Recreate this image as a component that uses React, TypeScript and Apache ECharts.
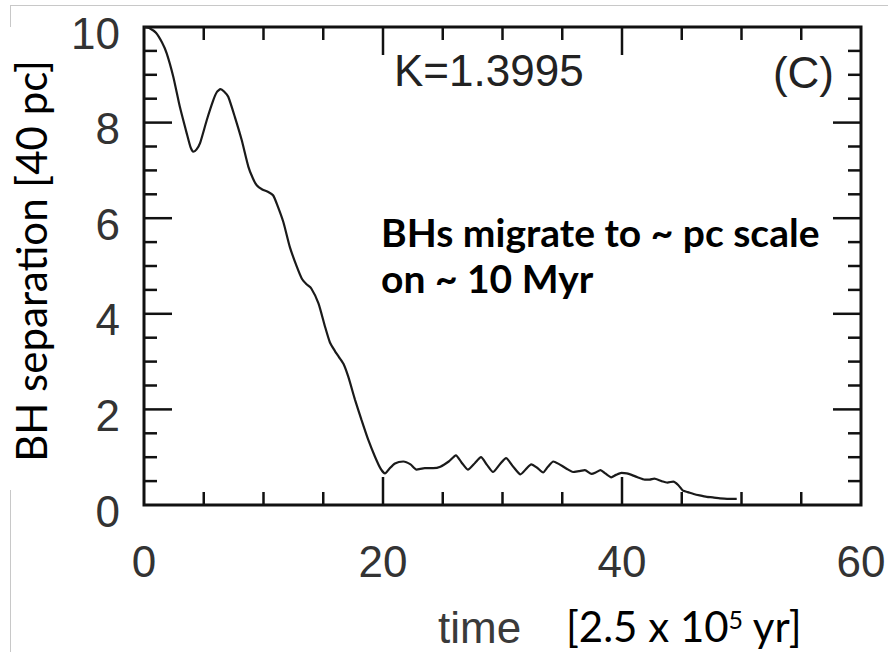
import { useEffect, useRef } from "react";
import * as echarts from "echarts";

// ---- data ----
const timeValues = [
  0, 0.5, 1.0, 1.5, 1.9, 2.45, 3.0, 3.57, 3.9, 4.13, 4.4, 4.69, 5.25, 5.8, 6.1, 6.4, 6.7, 7.05,
  7.6, 8.17, 8.73, 9.1, 9.43, 9.9, 10.4, 10.8, 11.1, 11.66, 12.2, 12.78, 13.2, 13.6, 14.0, 14.6,
  15.15, 15.56, 15.98, 16.3, 16.68, 17.1, 17.66, 18.2, 18.77, 19.33, 19.8, 20.17, 20.5, 21.0,
  21.7, 22.3, 22.8, 23.5, 24.2, 24.8, 25.5, 26.1, 26.6, 27.1, 27.7, 28.2, 28.7, 29.2, 29.8, 30.3,
  30.9, 31.5, 32.0, 32.4, 32.9, 33.4, 33.8, 34.25, 34.7, 35.1, 35.5, 35.9, 36.4, 36.9, 37.45,
  37.8, 38.2, 38.6, 39.1, 39.5, 39.96, 40.4, 40.8, 41.3, 41.9, 42.3, 42.7, 43.3, 43.8, 44.3, 44.7,
  45.1, 45.5, 46.0, 46.5, 47.1, 47.6, 48.2, 48.8, 49.6,
];
const separationValues = [
  10.0, 9.97, 9.88, 9.68, 9.45, 8.96, 8.33, 7.78, 7.48, 7.39, 7.44, 7.57, 8.05, 8.47, 8.64, 8.7,
  8.65, 8.54, 8.12, 7.64, 7.08, 6.84, 6.69, 6.6, 6.55, 6.48, 6.31, 5.92, 5.4, 4.99, 4.74, 4.62,
  4.53, 4.22, 3.73, 3.4, 3.22, 3.1, 2.96, 2.68, 2.2, 1.78, 1.36, 1.01, 0.76, 0.66, 0.75, 0.87,
  0.91, 0.85, 0.74, 0.77, 0.77, 0.8, 0.91, 1.04, 0.88, 0.74, 0.88, 1.0, 0.84, 0.69, 0.86, 0.98,
  0.8, 0.64, 0.76, 0.85, 0.78, 0.68, 0.8, 0.91, 0.86, 0.8, 0.74, 0.69, 0.71, 0.73, 0.65, 0.68,
  0.73, 0.66, 0.58, 0.63, 0.67, 0.66, 0.63, 0.58, 0.53, 0.53, 0.55, 0.5, 0.47, 0.49, 0.42, 0.3,
  0.27, 0.23, 0.2, 0.17, 0.16, 0.14, 0.13, 0.13,
];
const xRange = [0, 60];
const xLabelStep = 20;
const yRange = [0, 10];
const yLabelStep = 2;
const xMajorTicks = [20, 40];
const xMinorTicks = [5, 10, 15, 25, 30, 35, 45, 50, 55];
const yMajorTicks = [2, 4, 6, 8];
const yMinorTicks = [0.5, 1, 1.5, 2.5, 3, 3.5, 4.5, 5, 5.5, 6.5, 7, 7.5, 8.5, 9, 9.5];
const kLabel = "K=1.3995";
const panelLabel = "(C)";
const noteLines = ["BHs migrate to ~ pc scale", "on ~ 10 Myr"];
const yTitle = "BH separation [40 pc]";
const xTitleWord = "time";
const xUnitParts = ["[2.5 x 10", "5", " yr]"];

const INK = "#111";
const HELV = "'Liberation Sans', Arial, Helvetica, sans-serif";
const CAL = "Lato, 'Open Sans', sans-serif";

const W = 888;
const H = 652;
const MAJOR_LEN = 28;
const MINOR_LEN = 13;

const labelStyle = { fontSize: 44, fontFamily: HELV, color: "#333" };

export default function App() {
  const ref = useRef<HTMLDivElement>(null);
  useEffect(() => {
    const chart = echarts.init(ref.current!, null, { renderer: "svg" });
    const seriesData = timeValues.map((t, i) => [t, separationValues[i]]);
    // [x value, y placeholder, tick length]
    const xTickData = [
      ...xMajorTicks.map((v) => [v, yRange[0], MAJOR_LEN]),
      ...xMinorTicks.map((v) => [v, yRange[0], MINOR_LEN]),
    ];
    // [x placeholder, y value, tick length]
    const yTickData = [
      ...yMajorTicks.map((v) => [xRange[0], v, MAJOR_LEN]),
      ...yMinorTicks.map((v) => [xRange[0], v, MINOR_LEN]),
    ];
    const tickStyle = { stroke: INK, lineWidth: 2.5 };

    chart.setOption({
      animation: false,
      backgroundColor: "#fff",
      grid: {
        left: 144,
        top: 27,
        width: 717,
        height: 478,
        containLabel: false,
        outerBoundsMode: "none",
        show: true,
        borderColor: INK,
        borderWidth: 3,
        backgroundColor: "transparent",
      },
      xAxis: {
        type: "value",
        position: "bottom",
        min: xRange[0],
        max: xRange[1],
        interval: xLabelStep,
        axisLine: { show: false, onZero: false },
        axisTick: { show: false },
        minorTick: { show: false },
        splitLine: { show: false },
        axisLabel: { ...labelStyle, margin: 34 },
      },
      yAxis: {
        type: "value",
        position: "left",
        min: yRange[0],
        max: yRange[1],
        interval: yLabelStep,
        axisLine: { show: false, onZero: false },
        axisTick: { show: false },
        minorTick: { show: false },
        splitLine: { show: false },
        axisLabel: { ...labelStyle, margin: 24, verticalAlign: "top", lineHeight: 12 },
      },
      series: [
        {
          type: "line",
          data: seriesData,
          showSymbol: false,
          smooth: 0.2,
          lineStyle: { color: "#1a1a1a", width: 2.2 },
        },
        {
          type: "custom",
          silent: true,
          clip: false,
          data: xTickData,
          renderItem: (params: any, api: any) => {
            const v = api.value(0);
            const len = api.value(2);
            const bottom = api.coord([v, yRange[0]]);
            const top = api.coord([v, yRange[1]]);
            return {
              type: "group",
              children: [
                { type: "line", shape: { x1: bottom[0], y1: bottom[1], x2: bottom[0], y2: bottom[1] - len }, style: tickStyle },
                { type: "line", shape: { x1: top[0], y1: top[1], x2: top[0], y2: top[1] + len }, style: tickStyle },
              ],
            };
          },
        },
        {
          type: "custom",
          silent: true,
          clip: false,
          data: yTickData,
          renderItem: (params: any, api: any) => {
            const v = api.value(1);
            const len = api.value(2);
            const left = api.coord([xRange[0], v]);
            const right = api.coord([xRange[1], v]);
            return {
              type: "group",
              children: [
                { type: "line", shape: { x1: left[0], y1: left[1], x2: left[0] + len, y2: left[1] }, style: tickStyle },
                { type: "line", shape: { x1: right[0], y1: right[1], x2: right[0] - len, y2: right[1] }, style: tickStyle },
              ],
            };
          },
        },
      ],
      graphic: [
        { type: "line", shape: { x1: 10, y1: 5.5, x2: 888, y2: 5.5 }, style: { stroke: "#c8c8c8", lineWidth: 1 } },
        { type: "line", shape: { x1: 10.5, y1: 5, x2: 10.5, y2: 27 }, style: { stroke: "#c8c8c8", lineWidth: 1 } },
        { type: "line", shape: { x1: 10.5, y1: 490, x2: 10.5, y2: 652 }, style: { stroke: "#c8c8c8", lineWidth: 1 } },
        {
          type: "text",
          x: 394,
          y: 70.5,
          style: { text: kLabel, fontSize: 44, fontFamily: HELV, fill: "#222", align: "left", verticalAlign: "middle" },
        },
        {
          type: "text",
          x: 834,
          y: 72,
          style: { text: panelLabel, fontSize: 44, fontFamily: HELV, fill: "#222", align: "right", verticalAlign: "middle" },
        },
        {
          type: "text",
          x: 381,
          y: 232,
          style: { text: noteLines[0], fontSize: 39, fontWeight: "bold", fontFamily: CAL, fill: "#000", align: "left", verticalAlign: "middle" },
        },
        {
          type: "text",
          x: 381,
          y: 278,
          style: { text: noteLines[1], fontSize: 39, fontWeight: "bold", fontFamily: CAL, fill: "#000", align: "left", verticalAlign: "middle" },
        },
        {
          type: "text",
          x: 31,
          y: 261,
          rotation: Math.PI / 2,
          style: { text: yTitle, fontSize: 42, fontFamily: CAL, fill: "#000", align: "center", verticalAlign: "middle" },
        },
        {
          type: "text",
          x: 438,
          y: 627,
          style: { text: xTitleWord, fontSize: 44, fontFamily: HELV, fill: "#3a3a3a", align: "left", verticalAlign: "middle" },
        },
        {
          type: "text",
          x: 566,
          y: 626,
          style: {
            text: `{a|${xUnitParts[0]}}{s|${xUnitParts[1]}}{a|${xUnitParts[2]}}`,
            align: "left",
            verticalAlign: "middle",
            rich: {
              a: { fontSize: 42, lineHeight: 40, fontFamily: CAL, fill: "#000" },
              s: { fontSize: 25, lineHeight: 40, fontFamily: CAL, fill: "#000", verticalAlign: "top", padding: [0, 0, 14, 0] },
            },
          },
        },
      ],
    });
    return () => chart.dispose();
  }, []);
  return (
    <div
      ref={ref}
      style={{ position: "absolute", left: 0, top: 0, width: W, height: H, background: "#fff" }}
    />
  );
}
